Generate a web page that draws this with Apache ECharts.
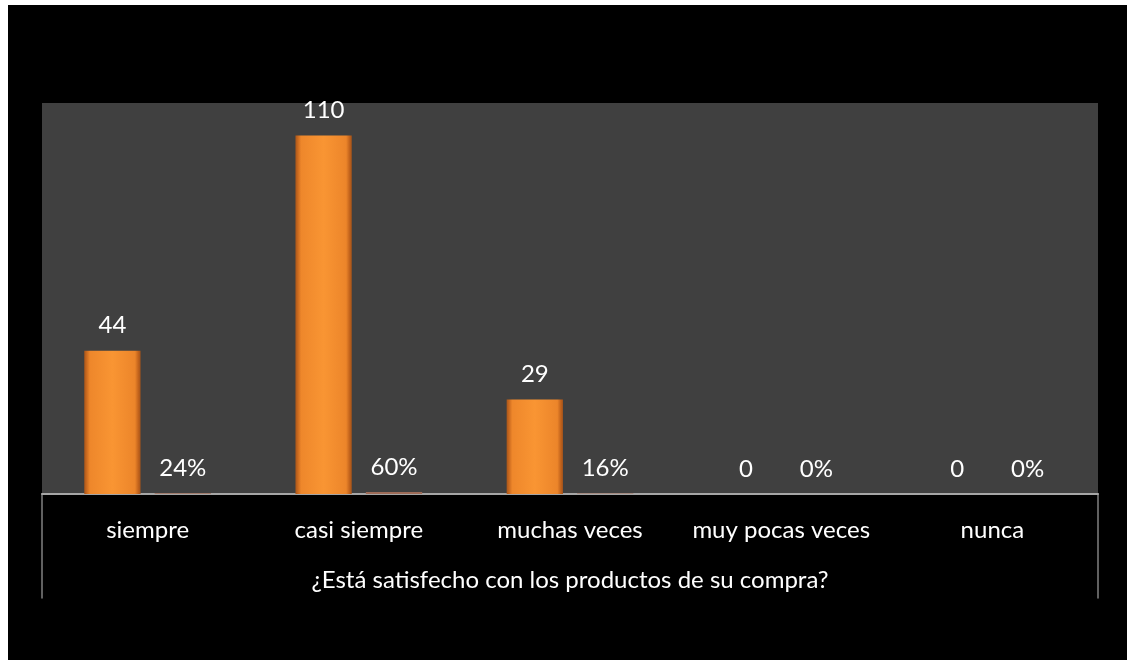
<!DOCTYPE html>
<html>
<head>
<meta charset="utf-8">
<script src="https://cdn.jsdelivr.net/npm/echarts@6/dist/echarts.min.js"></script>
<style>
  html, body { margin: 0; padding: 0; background: #ffffff; }
  #chart { position: absolute; left: 8px; top: 5px; width: 1119px; height: 655px; background: #000000; }
</style>
</head>
<body>
<div id="chart"></div>
<script>
// Survey answers: number of respondents and share of the total
const categories = ['siempre', 'casi siempre', 'muchas veces', 'muy pocas veces', 'nunca'];
const counts = [44, 110, 29, 0, 0];
const shares = [0.24, 0.60, 0.16, 0, 0];
const question = '¿Está satisfecho con los productos de su compra?';

const FONT = 'Lato';
const labelStyle = { color: '#ffffff', fontFamily: FONT, fontSize: 24 };

// bevelled orange: darker edges, bright middle
const orange = {
  type: 'linear', x: 0, y: 0, x2: 1, y2: 0,
  colorStops: [
    { offset: 0, color: '#a9561a' },
    { offset: 0.04, color: '#c8681e' },
    { offset: 0.1, color: '#ee872b' },
    { offset: 0.5, color: '#f99533' },
    { offset: 0.9, color: '#ec852a' },
    { offset: 0.96, color: '#c2631c' },
    { offset: 1, color: '#a4531a' }
  ]
};

const chart = echarts.init(document.getElementById('chart'), null, { renderer: 'canvas' });
chart.setOption({
  backgroundColor: '#000000',
  animation: false,
  grid: [
    { left: 34, right: 29, top: 98, bottom: 166, show: true, backgroundColor: '#404040', borderWidth: 0, containLabel: false },
    { left: 34, right: 29, top: 489, bottom: 62, show: false }
  ],
  xAxis: [
    {
      type: 'category', gridIndex: 0, data: categories,
      axisLine: { show: true, lineStyle: { color: '#a6a6a6', width: 2 } },
      axisTick: { show: false },
      axisLabel: { ...labelStyle, margin: 24, interval: 0 },
      name: question, nameLocation: 'middle', nameGap: 74,
      nameTextStyle: { ...labelStyle }
    },
    { type: 'category', gridIndex: 1, data: categories, show: false }
  ],
  yAxis: [
    { type: 'value', gridIndex: 0, min: 0, max: 120, interval: 20, show: false, splitLine: { show: false } },
    { type: 'value', gridIndex: 1, min: 0, max: 2, position: 'left', axisLine: { show: true, lineStyle: { color: '#808080', width: 1.5 } }, axisTick: { show: false }, axisLabel: { show: false }, splitLine: { show: false } },
    { type: 'value', gridIndex: 1, min: 0, max: 2, position: 'right', axisLine: { show: true, lineStyle: { color: '#808080', width: 1.5 } }, axisTick: { show: false }, axisLabel: { show: false }, splitLine: { show: false } }
  ],
  series: [
    {
      name: 'Cantidad', type: 'bar', xAxisIndex: 0, yAxisIndex: 0,
      data: counts,
      barGap: '25%', barCategoryGap: '40%',
      itemStyle: { color: orange, borderWidth: 0 },
      label: { show: true, position: 'top', distance: 13, ...labelStyle }
    },
    {
      name: 'Porcentaje', type: 'bar', xAxisIndex: 0, yAxisIndex: 0,
      data: shares,
      barGap: '25%', barCategoryGap: '40%',
      itemStyle: { color: '#9e6c58', borderWidth: 0 },
      label: {
        show: true, position: 'top', distance: 13, ...labelStyle,
        formatter: p => Math.round(p.value * 100) + '%'
      }
    }
  ]
});
</script>
</body>
</html>
